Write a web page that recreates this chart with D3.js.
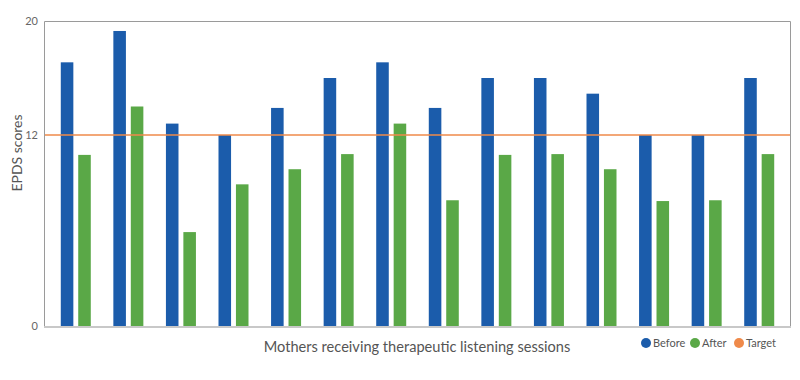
<!DOCTYPE html>
<html>
<head>
<meta charset="utf-8">
<script src="https://cdn.jsdelivr.net/npm/d3@7"></script>
<style>
  html, body { margin: 0; padding: 0; background: #fff; }
  svg { display: block; font-family: Lato, "Open Sans", sans-serif; }
</style>
</head>
<body>
<svg id="chart" width="800" height="380"></svg>
<script>
// ---- data ----
const mothers = ["1","2","3","4","5","6","7","8","9","10","11","12","13","14"];
const before = [17.1, 19.3, 12.8, 12, 13.9, 16.0, 17.1, 13.9, 16.0, 16.0, 14.9, 12, 12, 16.0];
const after  = [10.75, 14.0, 5.9, 8.9, 9.85, 10.8, 12.8, 7.9, 10.75, 10.8, 9.85, 7.85, 7.9, 10.8];
const target = 12;
const yTicks = [0, 12, 20];
const seriesNames = ["Before", "After"];
const legendLabels = ["Before", "After", "Target"];
const colors = { Before: "#1b5cab", After: "#5aa847", Target: "#ef8a4a" };

// ---- layout ----
const svg = d3.select("#chart");
const plot = { left: 44, right: 791, top: 21, bottom: 326 };

const x0 = d3.scaleBand().domain(mothers).range([plot.left + 5.5, plot.right - 5.5]).padding(0);
const x1 = d3.scaleBand().domain(seriesNames).range([0, 30]).paddingInner(0.28);
// axis as drawn in the reference: 0, 12 and 20 at fixed positions
const y = d3.scaleLinear().domain([0, 12, 20]).range([plot.bottom, 135, plot.top]);

// bars
const groups = svg.append("g").selectAll("g").data(mothers).join("g")
  .attr("transform", d => `translate(${x0(d) + (x0.bandwidth() - 30) / 2},0)`);
groups.selectAll("rect")
  .data((d, i) => [{ s: "Before", v: before[i] }, { s: "After", v: after[i] }])
  .join("rect")
  .attr("x", d => x1(d.s))
  .attr("width", x1.bandwidth())
  .attr("y", d => y(d.v))
  .attr("height", d => y(0) - y(d.v))
  .attr("fill", d => colors[d.s]);

// frame
svg.append("path")
  .attr("d", `M${plot.left + 0.5},${plot.bottom}V${plot.top + 0.5}H${plot.right - 0.5}V${plot.bottom}`)
  .attr("fill", "none").attr("stroke", "#9a9a9a").attr("stroke-width", 1);
svg.append("line")
  .attr("x1", plot.left).attr("x2", plot.right)
  .attr("y1", plot.bottom + 1).attr("y2", plot.bottom + 1)
  .attr("stroke", "#c8c8c8").attr("stroke-width", 2);

// target line
svg.append("line")
  .attr("x1", plot.left + 1).attr("x2", plot.right - 1)
  .attr("y1", y(target)).attr("y2", y(target))
  .attr("stroke", colors.Target).attr("stroke-width", 1.5);

// y axis labels
const yAxis = d3.axisLeft(y).tickValues(yTicks).tickSize(0).tickPadding(6).tickFormat(d3.format("d"));
const ya = svg.append("g").attr("transform", `translate(${plot.left - 0},0)`).call(yAxis);
ya.select(".domain").remove();
ya.selectAll("text").attr("font-family", "Lato, sans-serif").attr("font-size", 11).attr("fill", "#666");

// axis titles
svg.append("text")
  .attr("transform", "translate(22,153) rotate(-90)")
  .attr("text-anchor", "middle")
  .attr("font-size", 14).attr("fill", "#555")
  .text("EPDS scores");
svg.append("text")
  .attr("x", 417).attr("y", 352)
  .attr("text-anchor", "middle")
  .attr("font-size", 14.6).attr("fill", "#555")
  .text("Mothers receiving therapeutic listening sessions");

// legend
const legendX = [646, 695, 739];
const lg = svg.append("g").selectAll("g").data(legendLabels).join("g")
  .attr("transform", (d, i) => `translate(${legendX[i]},343)`);
lg.append("circle").attr("r", 5).attr("fill", d => colors[d]);
lg.append("text").attr("x", 7).attr("y", 4)
  .attr("font-size", 11).attr("fill", "#555").text(d => d);
</script>
</body>
</html>
